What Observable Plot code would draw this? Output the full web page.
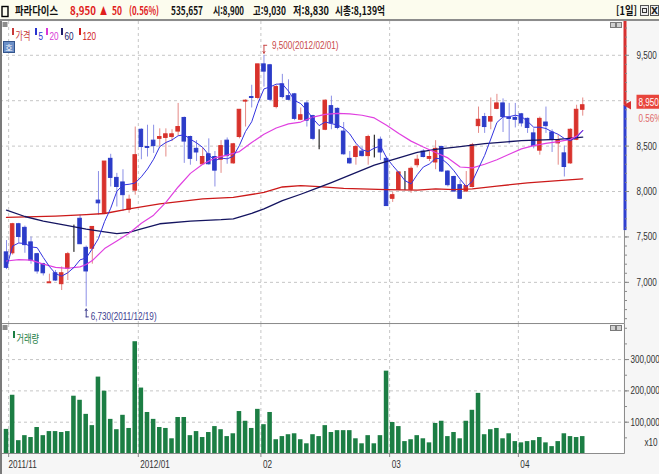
<!DOCTYPE html>
<html lang="ko">
<head>
<meta charset="utf-8">
<script src="https://cdn.jsdelivr.net/npm/d3@7"></script>
<script src="https://cdn.jsdelivr.net/npm/@observablehq/plot@0.6"></script>
<style>
html,body{margin:0;padding:0;background:#fff;}
#wrap{position:relative;width:659px;height:474px;overflow:hidden;background:#f6f6f6;}
#wrap > div, #wrap > svg{position:absolute;left:0;}
</style>
</head>
<body>
<div id="wrap"><div id="price" style="top:21px"></div><div id="vol" style="top:323px"></div></div>
<script>
// ---------- DATA ----------
const stockName = "파라다이스";
const lastPrice = 8950, priceChange = 50, changePct = 0.56, todayVolume = 535657;
const dayOpen = 8900, dayHigh = 9030, dayLow = 8830, marketCap = "8,139억";
const periodLabel = "[1일]";

const open = [7330,7320,7640,7600,7440,7310,7200,6990,7100,6980, 7150,7390,7700,7380,7370,7900,7760,8360,8150,8100,
  7800,8010,8680,8490,8560,8580,8590,8600,8660,8810, 8600,8470,8300,8410,8380,8350,8560,8310,8600,8990,
  9040,9030,9400,9390,8930,9180,9050,9070,8790,8970, 8830,8630,8680,8940,8910,8660,8360,8380,8440,8390,
  8600,8570,8360,7920,8020,8160,8020,8290,8440,8360, 8320,8490,8220,8160,8070,8000,8050,8720,8820,8770,
  8910,8970,8810,8810,8850,8800,8640,8450,8760,8650, 8530,8420,8310,8570,8900];
const high = [7460,7650,7650,7620,7500,7320,7210,7090,7130,7170, 7330,7630,7740,7400,7610,8220,8330,8410,8200,8240,
  7960,8710,8690,8730,8730,8690,8690,8680,8970,8820, 8610,8560,8480,8580,8440,8560,8590,8530,8900,9010,
  9170,9400,9500,9400,9170,9290,9230,9080,8920,8990, 8840,8680,9010,9050,8920,8760,8440,8510,8490,8620,
  8620,8600,8380,7990,8220,8220,8270,8400,8460,8440, 8560,8500,8230,8170,8120,8220,8530,8930,8860,9030,
  9070,9020,8970,8970,8860,8810,8690,8820,8930,8680, 8620,8500,8690,8950,9030];
const low = [7140,7300,7430,7320,7200,7090,7070,6990,7010,6910, 7020,7330,7420,6730,7200,7740,7750,8050,7830,7780,
  7760,7960,8350,8380,8420,8490,8380,8550,8610,8310, 8290,8330,8290,8290,8050,8200,8300,8300,8580,8710,
  8920,9010,9150,8990,8910,9020,9000,8780,8780,8710, 8560,8460,8670,8680,8680,8400,8300,8290,8380,8290,
  8370,8340,7840,7880,8010,8010,7980,8260,8370,8330, 8240,8210,8050,7990,7910,7990,8040,8640,8640,8680,
  8900,8650,8520,8700,8710,8640,8470,8400,8640,8430, 8290,8160,8300,8560,8830];
const close = [7160,7640,7500,7410,7240,7120,7100,7000,7020,7100, 7310,7390,7420,7120,7610,7870,8330,8150,8050,7960,
  7910,8400,8490,8480,8500,8600,8630,8630,8710,8550, 8360,8430,8380,8300,8230,8500,8390,8520,8900,9000,
  9030,9400,9320,9010,9150,9040,9010,8800,8840,8780, 8580,8630,9000,8750,8700,8410,8310,8490,8390,8600,
  8600,8430,7840,7960,8210,8160,8250,8350,8380,8380, 8470,8220,8070,8000,7920,8060,8510,8790,8710,8820,
  8970,8820,8800,8790,8750,8700,8500,8800,8720,8570, 8560,8270,8680,8900,8950];
const volume = [77000,186000,41000,57000,51000,83000,57000,70000,70000,67000, 70000,183000,170000,125000,89000,244000,199000,109000,76000,122000,
  80000,357000,209000,131000,109000,83000,80000,47000,115000,115000, 57000,70000,51000,67000,86000,76000,54000,63000,134000,103000,
  80000,141000,92000,131000,44000,54000,60000,63000,44000,31000, 60000,54000,89000,67000,73000,73000,73000,47000,31000,57000,
  31000,57000,263000,99000,86000,38000,44000,57000,47000,34000, 96000,103000,54000,67000,47000,103000,138000,192000,60000,76000,
  80000,47000,63000,38000,34000,38000,41000,51000,34000,22000, 38000,63000,54000,51000,54000];

const ma20Idx = [0,2,4,6,8,10,12,13,14,16,18,20,22,24,26,28,30,32,34,36,38,40,42,44,46,48,50,52,54,56,58,60,62,64,66,68,70,72,74,76,78,80,82,84,86,88,90,92,93,94];
const ma20Val = [7235,7251,7245,7200,7165,7155,7170,7196,7240,7372,7455,7540,7650,7740,7880,8050,8200,8300,8370,8400,8440,8540,8630,8700,8745,8765,8820,8850,8860,8855,8840,8810,8730,8640,8555,8490,8430,8370,8270,8260,8300,8350,8410,8470,8505,8530,8550,8575,8610,8670];
const ma60Idx = [0,3,6,10,13,16,18,20,22,25,30,35,37,40,42,45,48,50,53,56,60,64,67,70,74,78,84,90,94];
const ma60Val = [7795,7725,7675,7625,7585,7555,7537,7550,7590,7645,7675,7690,7700,7760,7810,7900,7970,8020,8099,8180,8290,8370,8430,8465,8495,8528,8560,8575,8600];
const ma120Idx = [0,8,13,16,20,25,32,37,42,45,48,51,55,62,67,70,73,76,80,85,90,94];
const ma120Val = [7715,7730,7745,7758,7810,7865,7920,7935,7990,8050,8066,8055,8035,8022,8015,8030,8020,8030,8060,8095,8120,8140];

const priceTicks = [7000,7500,8000,8500,9000,9500];
const volTicks = [100000,200000,300000];
const monthGrid = [0.35,21.5,41.5,62.5,83.5];
const monthLabelPos = [0,21.5,41.5,62.5,83.5];
const monthLabels = ["2011/11","2012/01","02","03","04"];
const rangeLow = 7570;
const hiPoint = {i:42, p:9500, label:"9,500(2012/02/01)"};
const loPoint = {i:13, p:6730, label:"6,730(2011/12/19)"};
const legendLabels = ["가격","5","20","60","120"];
const volLegend = "거래량";
const volUnit = "x10";

// ---------- LAYOUT / STYLE ----------
const xMin = -0.979, xMax = 100.65;
const priceBottom = 6547, priceTop = 9872;
const volTop = 412000;
const pxX = (xMax - xMin) / 623;
const pxP = (priceTop - priceBottom) / 302;
const pxV = volTop / 129;
const UP = "#d8322c", DN = "#2c3cc8", UPW = "#e58a86", DNW = "#8b8fe6";
const legendColors = ["#c83a3a","#2a35d0","#d838d8","#20206a","#d02020"];
const legendX = [15,38,49,64,82];
const VOLC = "#1c7e44";
const FONT = "Liberation Sans Narrow, Liberation Sans, Noto Sans CJK KR, sans-serif";
const GRID = {stroke:"#c6c6c6", strokeDasharray:"3,3", strokeWidth:1};
const fmt = d3.format(",");

const candles = open.map((o,i)=>({i, o, h:high[i], l:low[i], c:close[i]}));
const bodyColor = d => d.c > d.o ? UP : d.c < d.o ? DN : "#000";
const wickColor = d => d.c > d.o ? UPW : d.c < d.o ? DNW : "#000";
const series = (idx, val) => idx.map((i,k)=>({i, v: val[k]}));
const minorP = d3.range(6600, 9900, 100);
// the current-price badge hides the tick label it sits on
const shownPriceLabels = priceTicks.filter(t => Math.abs(t - lastPrice) > 12 * pxP);

const price = Plot.plot({
  width:659, height:302, marginLeft:0, marginRight:36, marginTop:0, marginBottom:0,
  x:{domain:[xMin,xMax], axis:null},
  y:{domain:[priceBottom, priceTop], axis:null},
  style:{background:"transparent", fontFamily:FONT, overflow:"visible"},
  marks:[
    Plot.frame({fill:"white", stroke:"none"}),
    Plot.ruleY(priceTicks, GRID),
    Plot.ruleX(monthGrid, GRID),
    Plot.ruleX(candles, {x:"i", y1:"l", y2:"h", stroke:wickColor, strokeWidth:1}),
    Plot.rect(candles, {x1:d=>d.i-0.29, x2:d=>d.i+0.29, y1:"o", y2:"c", fill:bodyColor, stroke:bodyColor, strokeWidth:1}),
    Plot.line(series(ma120Idx, ma120Val), {x:"i", y:"v", stroke:"#cc1a1a", strokeWidth:1.3}),
    Plot.line(series(ma60Idx, ma60Val), {x:"i", y:"v", stroke:"#141460", strokeWidth:1.3}),
    Plot.line(series(ma20Idx, ma20Val), {x:"i", y:"v", stroke:"#e040e0", strokeWidth:1.2}),
    Plot.lineY(candles, Plot.windowY({k:5, anchor:"end", strict:false}, {x:"i", y:"c", stroke:"#3434e0", strokeWidth:1})),
    // annotations
    Plot.arrow([hiPoint], {x1:"i", x2:"i", y1:d=>d.p+10*pxP, y2:d=>d.p+2*pxP, stroke:"#c84848", strokeWidth:1, headLength:3}),
    Plot.ruleY([hiPoint], {y:d=>d.p+10*pxP, x1:"i", x2:d=>d.i+0.6, stroke:"#c84848"}),
    Plot.text([hiPoint], {x:"i", y:d=>d.p+10*pxP, text:"label", dx:8, textAnchor:"start", fill:"#c84848", fontSize:11}),
    Plot.arrow([loPoint], {x1:"i", x2:"i", y1:d=>d.p-10*pxP, y2:d=>d.p-2*pxP, stroke:"#404090", strokeWidth:1, headLength:3}),
    Plot.ruleY([loPoint], {y:d=>d.p-10*pxP, x1:"i", x2:d=>d.i+0.5, stroke:"#404090"}),
    Plot.text([loPoint], {x:"i", y:d=>d.p-10*pxP, text:"label", dx:4.5, textAnchor:"start", fill:"#404090", fontSize:11}),
    // bottom separator
    Plot.ruleY([priceBottom], {stroke:"#8c8c8c", x1:xMin, x2:xMax+0.3}),
    // right axis
    Plot.ruleX([xMax], {y1:priceBottom, y2:rangeLow, stroke:"#909090", strokeWidth:1, dx:1}),
    Plot.ruleX([xMax], {y1:rangeLow, y2:lastPrice, stroke:"#3040d0", strokeWidth:3, dx:1.5}),
    Plot.ruleX([xMax], {y1:lastPrice, y2:priceTop, stroke:"#d83030", strokeWidth:3, dx:1.5}),
    Plot.ruleY(minorP, {x1:xMax+2*pxX, x2:xMax+4*pxX, stroke:"#888"}),
    Plot.ruleY(priceTicks, {x1:xMax+2*pxX, x2:xMax+6*pxX, stroke:"#888"}),
    Plot.text(shownPriceLabels, {x:()=>xMax, y:d=>d, text:d=>fmt(d), dx:13, textAnchor:"start", fill:"#333", fontSize:11}),
    Plot.rect([lastPrice], {x1:xMax+13.5*pxX, x2:xMax+36*pxX, y1:d=>d-4*pxP, y2:d=>d+10*pxP, fill:"#e8453c"}),
    Plot.text([lastPrice], {x:()=>xMax, y:d=>d+3*pxP, text:d=>fmt(d), dx:15, textAnchor:"start", fill:"#fff", fontSize:11}),
    Plot.dot([lastPrice], {x:()=>xMax, y:d=>d, symbol:"triangle", rotate:-90, r:3.2, fill:"#d83030", stroke:"none", dx:5}),
    Plot.text([changePct], {x:()=>xMax, y:()=>lastPrice-13*pxP, text:d=>d.toFixed(2)+"%", dx:15, textAnchor:"start", fill:"#e06a6a", fontSize:11}),
    // legend labels
    ...legendLabels.map((t,k)=>Plot.text([t], {frameAnchor:"top-left", dx:legendX[k], dy:10.5, textAnchor:"start", fill:legendColors[k], fontSize:11}))
  ]
});

const vols = volume.map((v,i)=>({i, v}));
const volMinor = d3.range(50000, volTop, 50000);
const vol = Plot.plot({
  width:659, height:151, marginLeft:0, marginRight:36, marginTop:1, marginBottom:21,
  x:{domain:[xMin,xMax], axis:null},
  y:{domain:[0, volTop], axis:null},
  style:{background:"transparent", fontFamily:FONT, overflow:"visible"},
  marks:[
    Plot.frame({fill:"white", stroke:"none"}),
    Plot.ruleY(volTicks, GRID),
    Plot.ruleX(monthGrid, GRID),
    Plot.rect(vols, {x1:d=>d.i-0.37, x2:d=>d.i+0.37, y1:0, y2:"v", fill:VOLC}),
    Plot.ruleY([0], {stroke:"#8c8c8c", x1:xMin, x2:xMax+0.3}),
    Plot.ruleX([xMax], {y1:0, y2:volTop, stroke:"#8c8c8c", dx:1}),
    Plot.ruleY(volMinor, {x1:xMax+2*pxX, x2:xMax+4*pxX, stroke:"#888"}),
    Plot.ruleY(volTicks, {x1:xMax+2*pxX, x2:xMax+6*pxX, stroke:"#888"}),
    Plot.text(volTicks, {x:()=>xMax, y:d=>d, text:d=>fmt(d), dx:7, textAnchor:"start", fill:"#333", fontSize:11}),
    Plot.text([volUnit], {frameAnchor:"bottom-right", dx:21, dy:-8, textAnchor:"start", fill:"#333", fontSize:11}),
    Plot.ruleX(monthGrid, {y1:0, y2:-4*pxV, stroke:"#888"}),
    Plot.text(monthLabels, {x:(d,k)=>monthLabelPos[k], frameAnchor:"bottom", dy:14, dx:2, textAnchor:"start", fill:"#333", fontSize:11}),
    Plot.text([volLegend], {frameAnchor:"top-left", dx:16, dy:10.5, textAnchor:"start", fill:VOLC, fontSize:11})
  ]
});

document.getElementById("price").appendChild(price);
document.getElementById("vol").appendChild(vol);

// narrow the lettering like the terminal's bitmap font: target widths relative to Liberation Sans
const probe = d3.select("#wrap").append("svg").attr("width",10).attr("height",10).style("visibility","hidden");
function naturalWidth(str, family){
  const t = probe.append("text").style("font-size","11px").style("font-family",family).text(str);
  const w = t.node().getComputedTextLength(); t.remove(); return w;
}
function condense(svg){
  d3.select(svg).selectAll("text").each(function(){
    const str = this.textContent;
    if (!str) return;
    const hangul = /[\uAC00-\uD7A3]/.test(str);
    const fs = parseFloat(getComputedStyle(this).fontSize) || 11;
    const target = hangul ? this.getComputedTextLength() * 0.74
                          : naturalWidth(str, "Liberation Sans") * (fs/11) * 0.74;
    const L = this.getComputedTextLength();
    if (L > target + 0.3) { this.setAttribute("textLength", target.toFixed(1)); this.setAttribute("lengthAdjust","spacingAndGlyphs"); }
  });
}
condense(price);
condense(vol);
probe.remove();

// ---------- CHROME (header / UI icons) ----------
const RED = "#e0201c";
const chrome = d3.select("#wrap").append("svg").attr("width",659).attr("height",474)
  .style("top","0px").style("pointer-events","none");
chrome.append("rect").attr("width",659).attr("height",19).attr("fill","#fcfcee");
chrome.append("rect").attr("y",19).attr("width",659).attr("height",2).attr("fill","#8c8c8c");
chrome.append("rect").attr("x",0).attr("y",21).attr("width",2).attr("height",453).attr("fill","#7a7a7a");
chrome.append("rect").attr("x",2).attr("y",6.5).attr("width",6).attr("height",10).attr("fill","none").attr("stroke","#000").attr("stroke-width",1.4);
const headerItems = [
  {t:stockName, x:15, w:43, c:"#111"},
  {t:fmt(lastPrice), x:70, w:26, c:RED},
  {t:"▲", x:100, w:7, c:RED},
  {t:String(priceChange), x:112, w:10, c:RED},
  {t:`(${changePct.toFixed(2)}%)`, x:129, w:30, c:RED},
  {t:fmt(todayVolume), x:171, w:32, c:"#111"},
  {t:`시:${fmt(dayOpen)}`, x:213, w:31, c:"#111"},
  {t:`고:${fmt(dayHigh)}`, x:253, w:33, c:"#111"},
  {t:`저:${fmt(dayLow)}`, x:293, w:36, c:"#111"},
  {t:`시총:${marketCap}`, x:335, w:50, c:"#111"},
  {t:periodLabel, x:616, w:21, c:"#111"}
];
chrome.selectAll("text.h").data(headerItems).join("text").attr("class","h")
  .attr("x",d=>d.x).attr("y",15).attr("fill",d=>d.c)
  .attr("textLength",d=>d.w).attr("lengthAdjust","spacingAndGlyphs")
  .style("font","bold 11px 'Noto Sans CJK KR', sans-serif").text(d=>d.t);
// header buttons
chrome.append("rect").attr("x",640.5).attr("y",5.5).attr("width",8).attr("height",10).attr("fill","#eee").attr("stroke","#555");
chrome.append("rect").attr("x",642.5).attr("y",8.5).attr("width",4).attr("height",4).attr("fill","none").attr("stroke","#333");
chrome.append("rect").attr("x",650.5).attr("y",5.5).attr("width",8).attr("height",10).attr("fill","#eee").attr("stroke","#555");
chrome.append("text").attr("x",654.5).attr("y",14).attr("text-anchor","middle").style("font","bold 9px 'DejaVu Sans'").attr("fill","#222").text("X");
// panel icons
function panelIcons(y){
  chrome.append("rect").attr("x",2.5).attr("y",y).attr("width",5).attr("height",5).attr("fill","#8c8c8c");
  chrome.append("rect").attr("x",610.5).attr("y",y+0.5).attr("width",5).attr("height",5).attr("fill","#d0d0d0").attr("stroke","#7a7a7a");
  chrome.append("rect").attr("x",616.5).attr("y",y+0.5).attr("width",5).attr("height",5).attr("fill","#d0d0d0").attr("stroke","#7a7a7a");
}
panelIcons(22);
panelIcons(325);
// legend colour chips
legendX.forEach((x,k)=>chrome.append("rect").attr("x",x-3).attr("y",28).attr("width",2).attr("height",7).attr("fill",legendColors[k]));
chrome.append("rect").attr("x",13).attr("y",331).attr("width",2).attr("height",7).attr("fill",VOLC);
chrome.append("rect").attr("x",3.5).attr("y",41.5).attr("width",11).attr("height",11).attr("fill","#6b8fc7").attr("stroke","#34558c");
chrome.append("text").attr("x",9).attr("y",50.5).attr("text-anchor","middle").attr("fill","#fff").style("font","8px 'Noto Sans CJK KR'").text("호");
</script>
</body>
</html>
